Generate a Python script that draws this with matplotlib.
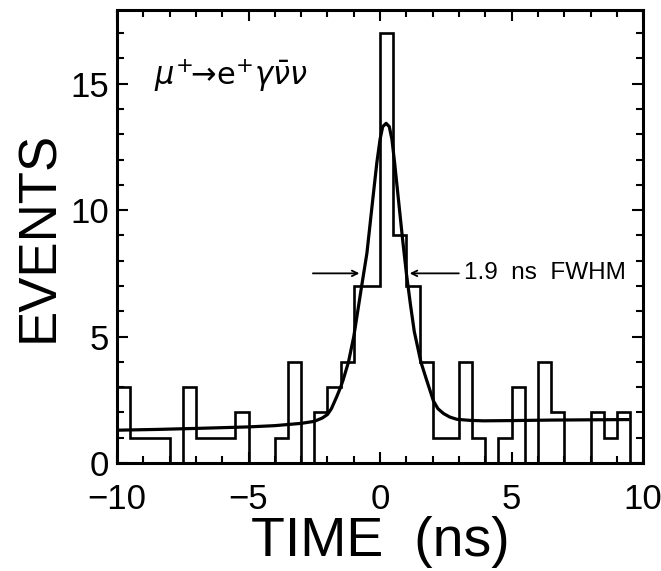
import matplotlib
matplotlib.use("Agg")
import matplotlib.pyplot as plt
import numpy as np

# Histogram of muon radiative decay events, 0.5 ns bins from -10 to 10 ns
bin_edges = np.arange(-10, 10.01, 0.5)
counts = [3, 1, 1, 1, 0, 3, 1, 1, 1, 2,
          0, 0, 1, 4, 0, 2, 3, 4, 7, 7,
          17, 9, 7, 4, 1, 1, 4, 1, 0, 1,
          3, 0, 4, 2, 0, 0, 2, 1, 2, 0]

# Fit curve
fit_t = [-10, -8.5, -7, -6, -5, -4, -3, -2.5, -2.2, -2.0, -1.85, -1.65, -1.5,
         -1.4, -1.2, -1.0, -0.85, -0.7, -0.5, -0.28, -0.12, 0.0, 0.1, 0.23,
         0.35, 0.45, 0.55, 0.7, 0.85, 1.0, 1.15, 1.3, 1.55, 1.77, 2.03, 2.2,
         2.41, 2.65, 2.92, 3.4, 3.93, 5.0, 6.5, 8.0, 9.42]
fit_n = [1.30, 1.33, 1.37, 1.40, 1.43, 1.48, 1.57, 1.65, 1.78, 1.92, 2.15,
         2.62, 3.0, 3.3, 4.0, 5.0, 6.0, 7.0, 8.3, 10.4, 11.9, 12.8, 13.3, 13.43,
         13.3, 12.8, 11.9, 10.4, 8.9, 7.5, 6.3, 5.2, 4.0, 3.28, 2.45, 2.15,
         1.96, 1.82, 1.73, 1.69, 1.67, 1.68, 1.70, 1.71, 1.72]

plt.rcParams['font.family'] = ['Liberation Sans', 'DejaVu Sans']
plt.rcParams['mathtext.fontset'] = 'dejavusans'

fig = plt.figure(figsize=(6.61, 5.71), dpi=100)
ax = fig.add_axes([0.177, 0.189, 0.796, 0.793])

ax.stairs(counts, bin_edges, color='black', linewidth=1.9, baseline=0)
ax.plot(fit_t, fit_n, color='black', linewidth=2.3)

ax.set_xlim(-10, 10)
ax.set_ylim(0, 17.9)
ax.set_xticks([-10, -5, 0, 5, 10])
ax.set_xticklabels(['\u221210', '\u22125', '0', '5', '10'])
ax.set_yticks([0, 5, 10, 15])
ax.set_xticks(np.arange(-10, 11, 1), minor=True)
ax.set_yticks(np.arange(0, 18, 1), minor=True)
ax.tick_params(which='both', direction='in', top=True, right=True, width=1.5)
ax.tick_params(which='major', length=8, labelsize=25)
ax.tick_params(which='minor', length=5)
ax.tick_params(axis='x', which='major', pad=14)
ax.tick_params(axis='y', which='major', pad=6)
for s in ax.spines.values():
    s.set_linewidth(2.2)

ax.set_xlabel('TIME  (ns)', fontsize=40, labelpad=0)
ax.set_ylabel('EVENTS', fontsize=38, labelpad=4)

ax.text(-8.6, 15.3, r'$\mu^{+}\!\!\rightarrow\! \mathrm{e}^{+}\gamma\bar{\nu}\nu$',
        fontsize=22, ha='left', va='center')

# FWHM markers
ax.annotate('', xy=(-0.68, 7.5), xytext=(-2.66, 7.5),
            arrowprops=dict(arrowstyle='->', lw=1.3, color='black'))
ax.annotate('', xy=(1.02, 7.5), xytext=(3.1, 7.5),
            arrowprops=dict(arrowstyle='->', lw=1.3, color='black'))
ax.text(3.2, 7.5, '1.9  ns  FWHM', fontsize=17.5, ha='left', va='center')

fig.savefig('out.png', dpi=100)
